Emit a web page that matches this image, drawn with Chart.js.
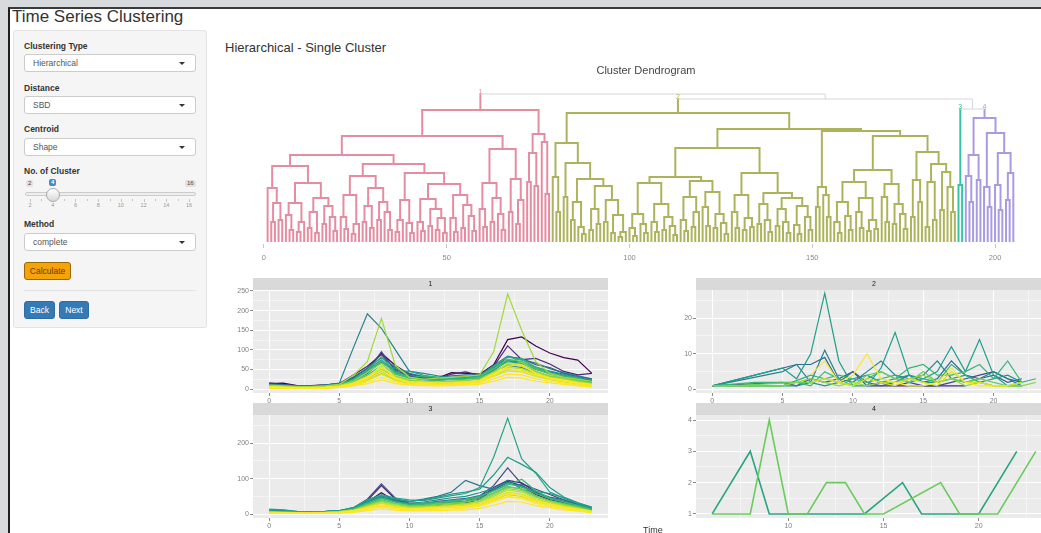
<!DOCTYPE html>
<html>
<head>
<meta charset="utf-8">
<title>Time Series Clustering</title>
<script src="https://cdn.jsdelivr.net/npm/chart.js@4.4.1/dist/chart.umd.min.js"></script>
<style>
  body { margin:0; width:1041px; height:533px; overflow:hidden; position:relative; background:#d7dbde;
         font-family:"Liberation Sans", Arial, Helvetica, sans-serif; color:#333; }
  .abs { position:absolute; white-space:nowrap; }
  .page { left:8px; top:7px; width:1040px; height:530px; background:#fff; border-left:2px solid #1f1f1f; border-top:2px solid #3a3a3a; }
  .app-title { left:12px; top:7px; font-size:17px; }
  .well { left:13px; top:30px; width:194px; height:298px; box-sizing:border-box; background:#f5f5f5; border:1px solid #e3e3e3; border-radius:3px; }
  .lbl { left:24px; font-size:8.5px; font-weight:bold; }
  .sel { left:24px; width:172px; height:18px; box-sizing:border-box; background:#fff; border:1px solid #ccc; border-radius:3px;
         font-size:8.5px; color:#555; line-height:16px; padding-left:8px; }
  .sel::after { content:""; position:absolute; right:10px; top:7px; border-left:3px solid transparent; border-right:3px solid transparent; border-top:3px solid #333; }
  .sl-badge { font-size:6px; line-height:7px; padding:0 2px; border-radius:2px; background:#e2e2e2; color:#444; }
  .sl-val { background:#428bca; color:#fff; font-weight:bold; }
  .sl-track { left:25px; top:192px; width:171px; height:4px; box-sizing:border-box; background:#eee; border:1px solid #ccc; border-radius:3px; }
  .sl-handle { left:46px; top:188px; width:12px; height:12px; border-radius:50%; background:linear-gradient(#fff,#d8d8d8); border:1px solid #a9a9a9; }
  .sl-tick { top:199px; width:1px; background:#c4c4c4; }
  .sl-num { top:202px; font-size:5.5px; color:#999; transform:translateX(-50%); }
  .btn { height:18px; box-sizing:border-box; border-radius:3px; font-size:8.5px; line-height:16px; text-align:center; }
  .calc { left:24px; top:262px; width:47px; background:#f5a30b; border:1px solid #9a6a00; color:#6b3a00; }
  .blue { top:301px; background:#337ab7; border:1px solid #2e6da4; color:#fff; }
  .rule { left:24px; top:290px; width:172px; border-top:1px solid #e3e3e3; }
  .heading { left:225px; top:40px; font-size:13px; }
  canvas { position:absolute; }
</style>
</head>
<body>
<div class="abs page"></div>
<div class="abs app-title">Time Series Clustering</div>

<div class="abs well"></div>
<div class="abs lbl" style="top:41px">Clustering Type</div>
<div class="abs sel" style="top:54px">Hierarchical</div>
<div class="abs lbl" style="top:83px">Distance</div>
<div class="abs sel" style="top:96px">SBD</div>
<div class="abs lbl" style="top:124px">Centroid</div>
<div class="abs sel" style="top:138px">Shape</div>
<div class="abs lbl" style="top:166px">No. of Cluster</div>
<div class="abs sl-badge" style="left:26px;top:180px">2</div>
<div class="abs sl-badge sl-val" style="left:49px;top:179px">4</div>
<div class="abs sl-badge" style="left:185px;top:180px">16</div>
<div class="abs sl-track"></div>
<div id="sliderGrid"></div>
<div class="abs sl-handle"></div>
<div class="abs lbl" style="top:219px">Method</div>
<div class="abs sel" style="top:233px">complete</div>
<div class="abs btn calc">Calculate</div>
<div class="abs rule"></div>
<div class="abs btn blue" style="left:24px;width:31px">Back</div>
<div class="abs btn blue" style="left:59px;width:30px">Next</div>

<div class="abs heading">Hierarchical - Single Cluster</div>

<canvas id="dendro" width="790" height="205" style="left:250px;top:62px"></canvas>
<canvas id="facet1" width="395" height="130" style="left:215px;top:278px"></canvas>
<canvas id="facet2" width="400" height="130" style="left:655px;top:278px"></canvas>
<canvas id="facet3" width="395" height="130" style="left:215px;top:403px"></canvas>
<canvas id="facet4" width="400" height="130" style="left:655px;top:403px"></canvas>
<div class="abs" style="left:643px;top:525px;font-size:9px">Time</div>

<script>
// ---- dendrogram: merge heights, leaf = 0, node = [height, left, right]
const pinkTree = [132,
  [106,
    [87,
      [76,
        [54, 0, [39, [20,0,0], [22,0,0]]],
        [59, [39, [27,0,[12,0,0]], [20,[10,0,0],0]], [44, [30,[14,0,0],[9,0,0]], [36,[18,0,0],[25,0,[11,0,0]]]]]
      ],
      [78,
        [66, [47, [25,0,[13,0,0]], [18,[8,0,0],0]], [54, [36,[20,0,0],[14,0,0]], [40,[22,0,0],[30,0,[12,0,0]]]]],
        [69, [42, [22,[10,0,0],0], [19,0,[9,0,0]]],
             [58, [43, [20,0,[11,0,0]], [33,[16,0,0],[24,[12,0,0],[9,0,0]]]], [47, [24,0,[10,0,0]], [37,[14,0,0],[26,0,[11,0,0]]]]]]
      ]
    ],
    [93, [59, [33,0,[15,0,0]], [44,[20,0,0],[28,0,[12,0,0]]]], [63, [30,0,0], [42,[18,0,0],0]]]
  ],
  [108, [89, [60,0,0], [56,0,0]], [100, 0, [48,0,0]]]
];
const oliveTree = [129,
  [99,
    [65, 0, [30,0,0]],
    [79,
      [45,0,0],
      [63, [40, [22,0,0], [15,0,[8,0,0]]], [56, [33,[12,0,0],[18,0,0]], [42,[20,0,0],[27,[9,0,0],[10,[5,0,0],0]]]]]
    ]
  ],
  [113,
    [94,
      [65,
        [59, [28, [14,0,[6,0,0]], [18,0,[9,0,0]]], [38, [20,0,[10,0,0]], [25,[12,0,0],[16,0,[7,0,0]]]]],
        [61, [45, [22,0,[11,0,0]], [30,[15,0,0],0]], [50, [35,0,[16,0,0]], [28,[14,0,0],[19,0,[8,0,0]]]]]
      ],
      [69, [47, [30,0,[14,0,0]], [24,[12,0,0],[15,0,0]]],
           [49, [38,[18,0,0],[22,0,[10,0,0]]], [44, [33,[16,0,0],[20,0,[9,0,0]]], [36,[17,0,[8,0,0]],[25,0,[12,0,0]]]]]]
    ],
    [111,
      [55, [35,0,0], [47,0,[25,0,0]]],
      [106,
        [72, [60, [40,[20,0,[9,0,0]],[26,0,[12,0,0]]], [44,[30,0,[14,0,0]],[22,[11,0,0],[13,0,0]]]],
             [58, [45,0,[20,0,0]], [38,[18,0,0],[28,0,[13,0,0]]]]],
        [90, [62, [25,0,0], [40,0,0]], [78, [60,[15,0,0],[22,0,0]], [70,[32,0,0],[55,0,[30,0,0]]]]]
      ]
    ]
  ]
];
const tealTree = [57, 0, 0];
const purpleTree = [124, [87, [66,0,[40,0,0]], [62,0,0]], [109, [55,0,[35,0,0]], [89, [57,0,[32,0,0]], [69,[42,0,0],0]]]];
// merges above the cut
const upperTree = [148, 'c1', [143, 'c2', [133, 'c3', 'c4']]];
const clusterTrees = {c1: pinkTree, c2: oliveTree, c3: tealTree, c4: purpleTree};
const clusterNames = {c1: '1', c2: '2', c3: '3', c4: '4'};
const clusterColors = {c1: '#e68ca0', c2: '#adb35b', c3: '#33c4a4', c4: '#a99ae2'};
const dendroTicks = [0, 50, 100, 150, 200];

// ---- facet panels: value per hour
const hours = [0,1,2,3,4,5,6,7,8,9,10,11,12,13,14,15,16,17,18,19,20,21,22,23];

const p1Series = [
  [14,15,9,9,11,14,30,52,92,60,38,30,28,42,40,38,62,126,133,110,92,80,74,40],
  [16,12,8,8,10,14,36,58,88,50,35,28,26,38,44,35,58,110,75,78,64,45,36,40],
  [10,9,7,7,9,13,28,45,95,48,32,26,24,28,30,30,52,82,78,62,55,40,32,25],
  [13,11,8,8,10,13,30,54,80,56,40,32,30,34,36,36,60,84,76,66,52,42,34,26],
  [8,7,6,6,8,11,22,40,70,42,30,24,22,26,28,28,48,72,68,52,44,35,28,22],
  [12,10,8,8,10,15,105,192,155,100,45,40,34,30,32,30,45,60,55,42,32,26,20,16],
  [11,9,7,7,9,12,26,50,68,52,36,30,28,30,30,34,56,70,66,56,46,38,30,22],
  [9,8,6,6,8,12,25,48,75,45,46,35,30,30,28,35,55,75,65,50,40,32,26,20],
  [9,8,6,6,8,11,24,50,82,44,30,26,25,27,28,32,58,82,74,56,42,33,26,18],
  [7,6,5,5,7,10,20,35,60,38,28,34,30,24,26,32,50,70,78,55,40,34,28,18],
  [8,7,5,5,7,10,22,44,72,40,28,24,22,24,25,30,52,76,70,52,38,30,24,16],
  [6,5,5,5,6,9,18,30,50,32,22,20,18,20,22,26,45,64,60,45,34,28,22,15],
  [7,6,5,5,6,9,20,42,66,34,24,20,18,20,22,25,44,60,68,46,32,26,20,14],
  [10,8,6,6,8,12,35,70,180,60,30,25,28,30,32,36,95,242,150,70,40,30,25,20],
  [5,4,3,3,4,7,14,28,45,26,18,16,15,16,18,20,38,55,52,38,28,22,16,10],
  [4,4,3,3,4,6,12,24,40,24,16,15,14,15,16,19,35,50,48,35,26,20,15,10],
  [6,5,4,4,5,8,16,32,55,30,20,18,16,17,18,22,40,66,58,42,30,24,18,12],
  [4,3,3,3,4,6,12,22,38,22,15,14,13,14,15,18,32,46,44,32,24,18,13,8],
  [5,4,3,3,4,6,12,26,62,28,16,14,12,13,15,18,34,58,62,40,26,20,14,9],
  [6,5,4,4,5,7,14,30,48,26,18,17,16,16,17,21,38,52,46,36,28,22,16,12],
  [3,3,2,2,3,5,10,18,30,18,12,11,10,11,12,14,26,38,36,26,20,15,10,6],
  [2,2,2,2,2,4,8,14,24,14,10,9,8,9,10,12,20,30,28,20,16,12,8,5]
];
const p1Colors = ['#440154','#482878','#3e4a89','#2c728e','#31688e','#26828e','#21918c','#1f9e89','#2db27d','#35b779',
  '#4ac16d','#6dcd59','#8fd744','#a0da39','#b4de2c','#c2df23','#d8e219','#d8e219','#fde725','#fde725','#fde725','#fde725'];

const p2Series = [
  [null,null,null,null,null,null,null,null,null,null,null,1,1,1,1,1,1,1,1,null,null,null,null,null],
  [1,null,null,null,null,2,1,3,2,3,5,1,2,1,2,1,1,2,3,4,5,3,2,null],
  [1,null,null,null,null,null,7,7,9,2,5,2,1,2,4,2,3,8,4,3,4,2,3,null],
  [1,null,null,null,null,5,7,2,11,3,2,5,8,4,3,4,8,3,2,3,5,3,1,null],
  [1,null,null,null,1,null,1,2,1,2,3,4,2,3,4,2,2,3,4,2,3,4,2,null],
  [1,null,null,null,null,6,3,10,27,8,1,1,6,16,4,3,5,12,5,14,4,1,1,null],
  [null,1,null,null,null,1,null,4,3,4,3,2,3,4,2,3,2,7,4,2,1,1,2,null],
  [1,null,null,2,null,null,2,1,5,3,1,3,5,3,6,7,4,4,5,7,3,8,2,3],
  [null,1,null,null,null,null,2,2,3,2,1,4,5,3,2,5,2,3,2,3,2,1,1,null],
  [1,null,null,null,null,1,2,3,2,1,2,1,2,2,3,4,2,3,1,2,1,null,1,2],
  [null,null,null,null,null,null,null,2,3,2,1,3,2,1,3,2,1,5,2,2,1,1,2,null],
  [null,null,null,null,null,null,null,4,8,2,4,10,3,2,1,1,2,6,2,1,1,1,null,null]
];
const p2Colors = ['#482878','#3e4a89','#31688e','#26828e','#21918c','#1f9e89','#2db27d','#35b779','#6dcd59','#8fd744','#d8e219','#fde725'];

const p3Series = [
  [9,8,6,6,7,9,18,42,85,45,30,28,32,34,36,50,80,130,85,70,55,40,28,14],
  [8,7,5,5,6,8,15,38,80,42,28,26,28,30,32,45,75,95,88,62,45,32,22,12],
  [7,6,5,5,6,8,14,34,60,36,26,24,26,28,30,42,70,92,80,55,40,30,20,10],
  [10,9,6,6,7,9,16,35,48,40,35,42,50,62,95,80,70,95,70,60,48,40,30,16],
  [8,7,5,5,6,8,15,36,52,38,30,30,36,40,44,52,68,88,82,60,46,36,26,14],
  [10,8,6,6,7,9,16,34,50,36,30,34,40,46,50,60,72,90,76,64,58,46,32,20],
  [14,12,8,7,8,10,16,40,55,45,40,38,45,52,58,75,160,270,155,115,62,45,30,15],
  [12,11,7,7,8,10,18,38,50,42,36,40,48,56,62,70,110,160,140,118,75,48,32,18],
  [8,7,5,5,6,8,14,32,44,34,28,30,34,38,42,50,66,84,78,58,44,34,24,13],
  [7,6,5,5,6,8,14,30,45,34,26,28,32,36,40,48,65,82,98,66,45,34,25,12],
  [7,6,4,4,5,7,13,28,40,30,24,26,30,32,36,44,60,78,70,50,38,30,22,11],
  [6,5,4,4,5,7,12,26,38,30,24,24,28,30,34,40,58,75,72,52,38,28,20,10],
  [6,5,4,4,5,7,12,24,35,27,21,22,25,28,30,36,54,72,66,48,35,26,18,9],
  [5,4,3,3,4,6,10,22,32,24,18,20,22,25,28,34,50,68,62,44,32,24,16,8],
  [4,4,3,3,4,5,9,18,24,19,15,16,18,20,22,26,40,55,50,36,26,19,13,7],
  [5,4,3,3,4,6,10,20,30,22,17,18,20,22,25,30,46,62,56,40,30,22,15,8],
  [4,3,3,3,4,5,9,18,26,20,15,16,18,20,22,28,42,58,52,38,28,20,14,7],
  [5,4,3,3,3,5,9,17,22,17,14,15,17,18,20,24,38,50,46,34,26,18,12,6],
  [3,3,2,2,3,4,7,14,20,15,12,12,14,15,17,22,34,48,44,30,22,16,10,5],
  [2,2,2,2,2,3,5,10,15,11,9,9,10,11,12,16,25,36,34,24,18,12,8,4]
];
const p3Colors = ['#3e4a89','#482878','#440154','#2c728e','#31688e','#21918c','#26a38a','#1f9e89','#2db27d','#35b779',
  '#4ac16d','#6dcd59','#8fd744','#b4de2c','#c2df23','#d8e219','#fde725','#fde725','#fde725','#fde725'];

const p4Series = [
  [null,null,null,null,null,null,1,null,3,1,null,null,null,null,1,null,2,1,null,null,1,null,3,null],
  [null,null,null,null,null,null,1,null,1,4,1,1,2,2,1,1,null,null,2,1,null,1,null,3]
];
const p4Colors = ['#27a581', '#6acd5b'];

Chart.defaults.font.family = '"Liberation Sans", Arial, sans-serif';

// ---- dendrogram layout from the merge arrays
let leafCount = 0;
const segs = {c1: [], c2: [], c3: [], c4: [], grey: []};
const topLabels = [];

function placeTree(node, out) {
  if (node === 0) {
    leafCount += 1;
    return {x: leafCount, h: 0};
  }
  const a = placeTree(node[1], out);
  const b = placeTree(node[2], out);
  const h = node[0];
  out.push({x: a.x, y: a.h}, {x: a.x, y: h}, {x: b.x, y: h}, {x: b.x, y: b.h}, {x: b.x, y: null});
  return {x: (a.x + b.x) / 2, h: h};
}

function placeUpper(node) {
  if (typeof node === 'string') {
    const top = placeTree(clusterTrees[node], segs[node]);
    return {x: top.x, h: top.h, cluster: node};
  }
  const a = placeUpper(node[1]);
  const b = placeUpper(node[2]);
  const h = node[0];
  [a, b].forEach(c => {
    const out = c.cluster ? segs[c.cluster] : segs.grey;
    out.push({x: c.x, y: c.h}, {x: c.x, y: h}, {x: c.x, y: null});
    if (c.cluster) topLabels.push({text: clusterNames[c.cluster], x: c.x, h: h, color: clusterColors[c.cluster]});
  });
  segs.grey.push({x: a.x, y: h}, {x: b.x, y: h}, {x: b.x, y: null});
  return {x: (a.x + b.x) / 2, h: h};
}
placeUpper(upperTree);

const clusterLabelPlugin = {
  id: 'clusterLabels',
  afterDatasetsDraw(chart) {
    const {ctx, scales} = chart;
    ctx.save();
    ctx.font = '7px "Liberation Sans", Arial, sans-serif';
    ctx.textAlign = 'center';
    ctx.textBaseline = 'bottom';
    topLabels.forEach(l => {
      ctx.fillStyle = l.color;
      ctx.fillText(l.text, scales.x.getPixelForValue(l.x), scales.y.getPixelForValue(l.h) + 2);
    });
    ctx.restore();
  }
};

const dendroSets = ['grey', 'c1', 'c2', 'c3', 'c4'].map(k => ({
  data: segs[k],
  showLine: true,
  borderColor: k === 'grey' ? '#d6d6db' : clusterColors[k],
  borderWidth: k === 'grey' ? 1 : 2,
  pointRadius: 0,
  spanGaps: false
}));

new Chart(document.getElementById('dendro'), {
  type: 'scatter',
  data: {datasets: dendroSets},
  plugins: [clusterLabelPlugin],
  options: {
    animation: false, responsive: false, events: [],
    layout: {padding: {left: 10.3, right: 8.4}},
    plugins: {
      legend: {display: false}, tooltip: {enabled: false},
      title: {display: true, text: 'Cluster Dendrogram', color: '#444', font: {size: 11, weight: 'normal'},
              padding: {top: 2, bottom: 12.8}}
    },
    scales: {
      x: {min: -1, max: 210, border: {display: false},
          afterFit: s => { s.height = 23; },
          grid: {drawOnChartArea: false, tickLength: 4, tickColor: '#c8c8c8'},
          afterBuildTicks: s => { s.ticks = dendroTicks.map(v => ({value: v})); },
          ticks: {color: '#8a8a8a', font: {size: 7.5}, padding: 5, maxRotation: 0}},
      y: {display: false, min: -2, max: 152}
    }
  }
});

// ---- facet panels
const stripPlugin = {
  id: 'strip',
  beforeDraw(chart, args, opts) {
    const {ctx, chartArea: a} = chart;
    ctx.save();
    ctx.fillStyle = '#ebebeb';
    ctx.fillRect(a.left, a.top, a.right - a.left, a.bottom - a.top);
    ctx.fillStyle = '#d9d9d9';
    ctx.fillRect(a.left, a.top - 12, a.right - a.left, 12);
    ctx.fillStyle = '#1a1a1a';
    ctx.font = '7px "Liberation Sans", Arial, sans-serif';
    ctx.textAlign = 'center';
    ctx.textBaseline = 'middle';
    ctx.fillText(opts.text, (a.left + a.right) / 2, a.top - 6);
    ctx.restore();
  }
};

function facetChart(id, label, series, colors, cfg) {
  const datasets = series.map((vals, i) => ({
    data: hours.map((h, j) => ({x: h, y: vals[j]})),
    showLine: true, spanGaps: true, pointRadius: 0,
    borderColor: colors[i], borderWidth: cfg.lineWidth,
    order: series.length - i
  }));
  const major = (v, every) => Math.abs(v / every - Math.round(v / every)) < 1e-6;
  return new Chart(document.getElementById(id), {
    type: 'scatter',
    data: {datasets: datasets},
    plugins: [stripPlugin],
    options: {
      animation: false, responsive: false, events: [],
      layout: {padding: {top: 12, right: cfg.padRight}},
      plugins: {legend: {display: false}, tooltip: {enabled: false}, strip: {text: label}},
      scales: {
        x: {min: cfg.xMin, max: cfg.xMax, border: {display: false},
            afterFit: s => { s.height = 15; },
            grid: {color: '#ffffff', tickLength: 3,
                   lineWidth: c => (c.tick && major(c.tick.value, 5)) ? 1 : 0.5,
                   tickColor: c => (c.tick && major(c.tick.value, 5)) ? '#8a8a8a' : 'rgba(0,0,0,0)'},
            ticks: {stepSize: 2.5, includeBounds: false, autoSkip: false, maxRotation: 0, padding: 1,
                    color: '#7f7f7f', font: {size: 7}, callback: v => major(v, 5) ? v : ''}},
        y: {min: cfg.yMin, max: cfg.yMax, border: {display: false},
            afterFit: s => { s.width = cfg.yWidth; },
            grid: {color: '#ffffff', tickLength: 3,
                   lineWidth: c => (c.tick && major(c.tick.value, cfg.yMajor)) ? 1 : 0.5,
                   tickColor: c => (c.tick && major(c.tick.value, cfg.yMajor)) ? '#8a8a8a' : 'rgba(0,0,0,0)'},
            ticks: {stepSize: cfg.yMajor / 2, includeBounds: false, autoSkip: false, padding: 1,
                    color: '#7f7f7f', font: {size: 7}, callback: v => major(v, cfg.yMajor) ? v : ''}}
      }
    }
  });
}

facetChart('facet1', '1', p1Series, p1Colors,
  {lineWidth: 1.2, xMin: -1.15, xMax: 24.15, yMin: -10, yMax: 252.5, yMajor: 50, yWidth: 38, padRight: 2});
facetChart('facet2', '2', p2Series, p2Colors,
  {lineWidth: 1.2, xMin: -1.15, xMax: 24.15, yMin: -1, yMax: 27.9, yMajor: 10, yWidth: 41, padRight: 3});
facetChart('facet3', '3', p3Series, p3Colors,
  {lineWidth: 1.2, xMin: -1.15, xMax: 24.15, yMin: -11, yMax: 279, yMajor: 100, yWidth: 38, padRight: 2});
facetChart('facet4', '4', p4Series, p4Colors,
  {lineWidth: 1.6, xMin: 5.15, xMax: 23.85, yMin: 0.87, yMax: 4.16, yMajor: 1, yWidth: 41, padRight: 3});

// ---- slider grid in the sidebar
const sliderLabels = [2, 4, 6, 8, 10, 12, 14, 16];
const grid = document.getElementById('sliderGrid');
for (let v = 2; v <= 16; v++) {
  const left = 30 + (v - 2) * 11.36;
  const t = document.createElement('div');
  t.className = 'abs sl-tick';
  t.style.left = left + 'px';
  t.style.height = (v % 2 === 0 ? 3 : 2) + 'px';
  grid.appendChild(t);
  if (sliderLabels.includes(v)) {
    const n = document.createElement('div');
    n.className = 'abs sl-num';
    n.style.left = left + 'px';
    n.textContent = v;
    grid.appendChild(n);
  }
}
</script>
</body>
</html>
